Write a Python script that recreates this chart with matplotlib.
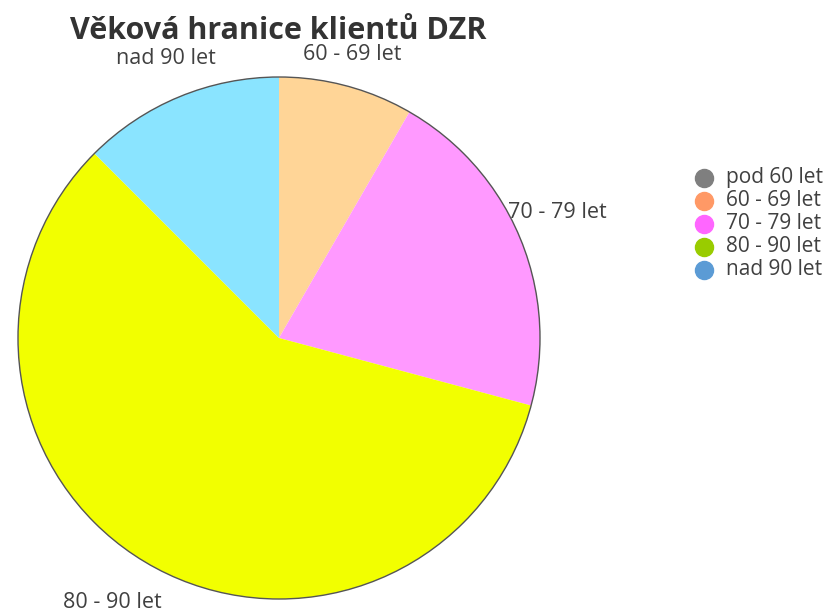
import matplotlib.pyplot as plt
from matplotlib.patches import Circle

plt.rcParams['font.family'] = ['Open Sans', 'DejaVu Sans']

# data
categories = ['pod 60 let', '60 - 69 let', '70 - 79 let', '80 - 90 let', 'nad 90 let']
counts = [0, 2, 5, 14, 3]
pie_colors = ['#8c8c8c', '#FFD597', '#FF99FF', '#F2FF00', '#8AE4FF']
legend_colors = ['#7F7F7F', '#FF9966', '#FF66FF', '#99CC00', '#5B9BD5']

W, H = 828, 613
fig = plt.figure(figsize=(W / 100, H / 100), dpi=100)
ax = fig.add_axes([0, 0, 1, 1])

cx, cy, r = 279, H - 338, 261
wedges, _ = ax.pie(counts, colors=pie_colors, startangle=90, counterclock=False,
                   center=(cx, cy), radius=r, frame=True,
                   wedgeprops=dict(linewidth=0))
ax.set_xlim(0, W)
ax.set_ylim(0, H)
ax.set_aspect('equal')
ax.axis('off')
ax.add_patch(Circle((cx, cy), r, fill=False, edgecolor='#555555', linewidth=1.0))

# slice labels
lbl = dict(fontsize=15.5, color='#404040', ha='center', va='center')
ax.text(166, H - 58, 'nad 90 let', **lbl)
ax.text(352, H - 55, '60 - 69 let', **lbl)
ax.text(557, H - 213, '70 - 79 let', **lbl)
ax.text(112, H - 602, '80 - 90 let', **lbl)

ax.text(278, H - 31, 'Věková hranice klientů DZR', fontsize=22,
        fontweight='bold', color='#333333', ha='center', va='center')

# legend
for i, (name, c) in enumerate(zip(categories, legend_colors)):
    y = H - 178 - i * 23
    ax.plot(704, y, marker='o', markersize=13, color=c, linestyle='', clip_on=False)
    ax.text(726, y, name, fontsize=15, color='#404040', ha='left', va='center')

fig.savefig('out.png', dpi=100)
